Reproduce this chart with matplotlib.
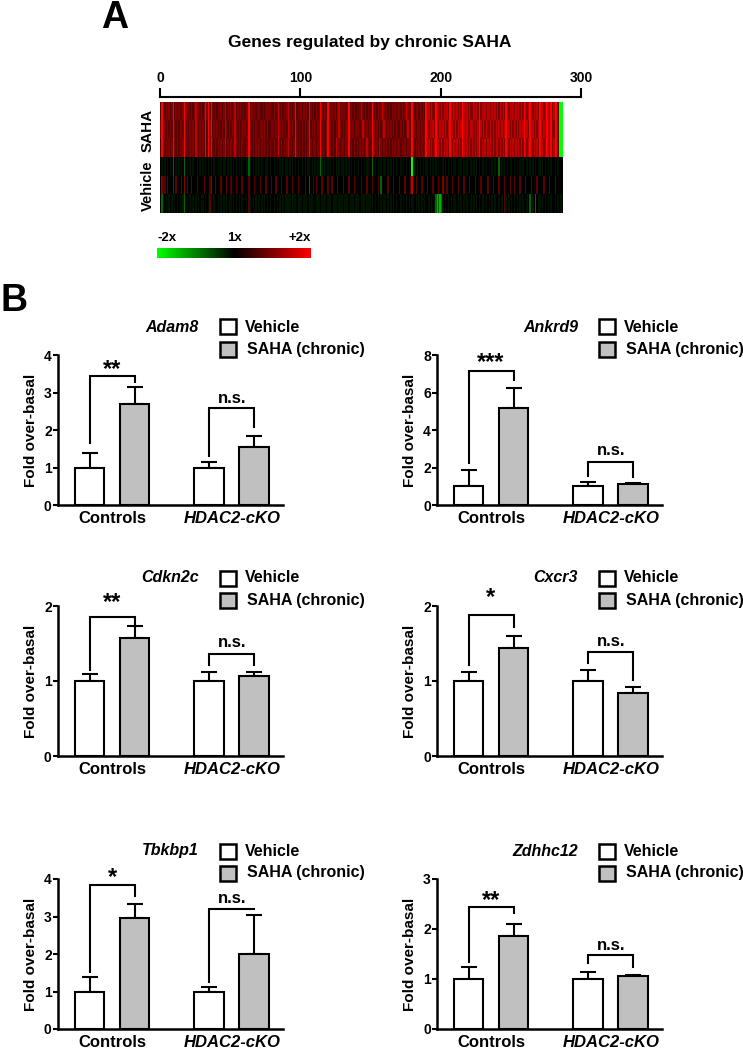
import numpy as np
import matplotlib
matplotlib.use('Agg')
import matplotlib.pyplot as plt
from matplotlib.colors import LinearSegmentedColormap, Normalize
from matplotlib.patches import Rectangle
from matplotlib.cm import ScalarMappable

plt.rcParams['font.family'] = ['Liberation Sans', 'DejaVu Sans']
plt.rcParams['font.weight'] = 'bold'

# ---------------- DATA ----------------
# Heatmap: one digit per gene (column); code 4 = 1x (black), 0 = -2x (green), 8 = +2x (red)
LEVELS = [-1.0, -0.7, -0.4, -0.08, 0.0, 0.35, 0.5, 0.75, 1.0]
HEAT_ROW_LABELS = ['SAHA', 'Vehicle']
HEAT_ROWS = [
    # SAHA 1
    "5855656568" "5656556865" "6565675656" "5686858656" "5656567565" "6567565656" "5658565656"
    "6556565665" "5656756565" "6756568565" "6565658656" "5656865658" "6565656756" "5656856565"
    "6567656565" "6856565676" "5656565656" "6565676568" "6566565658" "6767668676" "7676768767"
    "6767687676" "7667676867" "6767767676" "7676768767" "6767676768" "7678767676" "8676787686"
    "7885000",
    # SAHA 2
    "6856565658" "6565665856" "5656576565" "6585868565" "6565657656" "5657656565" "6568656565"
    "5665656556" "6565765656" "5765658656" "5656568565" "6565856568" "5656565765" "6565865656"
    "5656765656" "5865656567" "6565656565" "5656567658" "5656656568" "7676768767" "6767678676"
    "7676787676" "6776767876" "7676676767" "6767678676" "7676767678" "6768676767" "8767687686"
    "6885000",
    # SAHA 3
    "5865656568" "6565656856" "5656576565" "6585868656" "5656567565" "6567656565" "5658656565"
    "6565656565" "5656756565" "6756568656" "5656568656" "6565856568" "5656575656" "6565856565"
    "6565656765" "5865657656" "5656565656" "6565656568" "6565656568" "6767678676" "7676768767"
    "6767687676" "7676767867" "6767676767" "7676768767" "6767676768" "7678767676" "8676787686"
    "7885000",
    # Vehicle 1
    "4343434342" "4343434243" "4343443434" "3434343434" "4343433434" "3434343434" "4342343434"
    "3434433434" "4343434343" "3434343434" "4343433434" "3434234343" "4343434343" "3434343434"
    "4343434334" "4243434343" "3434343434" "4343434340" "4343434343" "3434343434" "4343434343"
    "3434343434" "4343434343" "3434343434" "4243434343" "3434343434" "4343434343" "3434343434"
    "4343444",
    # Vehicle 2
    "4645454446" "4544454645" "4454445444" "4544456445" "4445444544" "5444544454" "4445444544"
    "4544454445" "4454445444" "5444544454" "4445442445" "4544454445" "4454445444" "5444544454"
    "4445444544" "4544454244" "4454445444" "5444544457" "4454445444" "5444544454" "4644544454"
    "4454445444" "5444544454" "4445444544" "4544454445" "4454445444" "5444544454" "4445444544"
    "4544444",
    # Vehicle 3
    "4234343434" "3434343243" "4343434343" "3434353434" "4343434343" "3434343434" "4345343434"
    "3434343434" "4343434343" "3334333433" "3433343334" "4333433343" "3343334333" "4333433343"
    "3343334333" "4343434343" "3434343434" "4343434343" "3434343434" "4343432121" "2343434343"
    "3434343434" "4343434343" "3434343434" "4343453434" "3434343434" "4342434243" "3434343434"
    "4343434",
]
HEAT_TICKS = [0, 100, 200, 300]
CBAR_LABELS = ['-2x', '1x', '+2x']

GENES = ['Adam8', 'Ankrd9', 'Cdkn2c', 'Cxcr3', 'Tbkbp1', 'Zdhhc12']
GROUPS = ['Controls', 'HDAC2-cKO']
TREATMENTS = ['Vehicle', 'SAHA (chronic)']
# means: [Ctrl-Veh, Ctrl-SAHA, cKO-Veh, cKO-SAHA]
MEANS = {
    'Adam8':   [1.0, 2.69, 1.0, 1.54],
    'Ankrd9':  [1.0, 5.16, 1.0, 1.12],
    'Cdkn2c':  [1.0, 1.58, 1.0, 1.07],
    'Cxcr3':   [1.0, 1.44, 1.0, 0.84],
    'Tbkbp1':  [1.0, 2.97, 1.0, 2.00],
    'Zdhhc12': [1.0, 1.86, 1.0, 1.07],
}
SEMS = {
    'Adam8':   [0.39, 0.45, 0.14, 0.31],
    'Ankrd9':  [0.87, 1.06, 0.24, 0.07],
    'Cdkn2c':  [0.10, 0.15, 0.12, 0.05],
    'Cxcr3':   [0.12, 0.16, 0.15, 0.08],
    'Tbkbp1':  [0.40, 0.37, 0.11, 1.03],
    'Zdhhc12': [0.25, 0.24, 0.15, 0.02],
}
YMAX = [4, 8, 2, 2, 4, 3]
YSTEP = [1, 2, 1, 1, 1, 1]
SIG_CTRL = ['**', '***', '**', '*', '*', '**']
SIG_CKO = ['n.s.'] * 6
# brackets: (top, left-leg bottom, right-leg bottom)
BR_CTRL = [(3.44, 1.65, 3.28), (7.15, 2.22, 6.67), (1.85, 1.15, 1.72),
           (1.88, 1.21, 1.72), (3.83, 1.53, 3.55), (2.44, 1.35, 2.32)]
BR_CKO = [(2.58, 1.31, 2.09), (2.31, 1.56, 1.51), (1.36, 1.22, 1.22),
          (1.39, 1.24, 1.01), (3.21, 1.26, 3.19), (1.49, 1.33, 1.25)]
SIG_CTRL_Y = [3.68, 7.73, 2.08, 2.15, 4.10, 2.62]
SIG_CKO_Y = [2.85, 2.93, 1.51, 1.52, 3.47, 1.68]

# ---------------- FIGURE ----------------
W, H = 743, 1050
fig = plt.figure(figsize=(W / 100, H / 100), dpi=100)


def fx(px):
    return px / W


def fy(py):
    return 1 - py / H


cmap = LinearSegmentedColormap.from_list('gbr', ['#00ff00', '#000000', '#ff0000'])
norm = Normalize(-1, 1)

# ---- Panel A ----
fig.text(fx(115), fy(18), 'A', fontsize=27, fontweight='bold', ha='center', va='center')
fig.text(fx(370), fy(43), 'Genes regulated by chronic SAHA', fontsize=12.5,
         fontweight='bold', ha='center', va='center')

heat = np.array([[LEVELS[int(c)] for c in row] for row in HEAT_ROWS])
ncols = heat.shape[1]
axh = fig.add_axes([fx(160), fy(213), (581 - 160) / W, (213 - 102) / H])
axh.imshow(heat, cmap=cmap, norm=norm, aspect='auto', interpolation='nearest',
           extent=(0, ncols, heat.shape[0], 0))
axh.set_xlim(0, 300)
axh.set_ylim(heat.shape[0], 0)
axh.patch.set_alpha(0)
for s in ['left', 'right', 'bottom']:
    axh.spines[s].set_visible(False)
axh.spines['top'].set_position(('outward', 3.6))
axh.spines['top'].set_linewidth(1.5)
axh.xaxis.set_ticks_position('top')
axh.xaxis.set_label_position('top')
axh.set_xticks(HEAT_TICKS)
axh.set_xticklabels([str(t) for t in HEAT_TICKS], fontsize=10, fontweight='bold')
axh.tick_params(axis='x', direction='out', length=6.5, width=1.5, pad=2)
axh.set_yticks([])

fig.text(fx(148), fy(130), HEAT_ROW_LABELS[0], rotation=90, fontsize=11,
         fontweight='bold', ha='center', va='center')
fig.text(fx(148), fy(186), HEAT_ROW_LABELS[1], rotation=90, fontsize=10.5,
         fontweight='bold', ha='center', va='center')

cax = fig.add_axes([fx(157), fy(258), 154 / W, 10 / H])
cb = fig.colorbar(ScalarMappable(norm=norm, cmap=cmap), cax=cax, orientation='horizontal')
cb.outline.set_visible(False)
cax.set_xticks([])
for v, lab, ha in zip([-1, 0, 1], CBAR_LABELS, ['left', 'center', 'right']):
    cax.text(v, 2.0, lab, fontsize=9.5, fontweight='bold', ha=ha, va='center',
             transform=cax.get_xaxis_transform())

# ---- Panel B ----
fig.text(fx(14), fy(301), 'B', fontsize=27, fontweight='bold', ha='center', va='center')

COL_LEFT = [58, 437]
ROW_TOP = [355, 606, 879]
AX_W, AX_H = 225, 150
XPOS = [0, 1, 2.66, 3.66]
BAR_W = 0.66
FILLS = ['white', '#c0c0c0', 'white', '#c0c0c0']

for i, g in enumerate(GENES):
    left = COL_LEFT[i % 2]
    top = ROW_TOP[i // 2]
    ax = fig.add_axes([fx(left), fy(top + AX_H), AX_W / W, AX_H / H])
    m = MEANS[g]
    e = SEMS[g]
    ax.errorbar(XPOS, m, yerr=[[0] * 4, e], fmt='none', ecolor='black',
                elinewidth=1.5, capsize=6, capthick=1.5, zorder=1)
    ax.bar(XPOS, m, width=BAR_W, color=FILLS, edgecolor='black', linewidth=1.5, zorder=2)
    ax.set_xlim(-0.7, 4.3)
    ax.set_ylim(0, YMAX[i])
    ticks = np.arange(0, YMAX[i] + 0.01, YSTEP[i])
    ax.set_yticks(ticks)
    ax.set_yticklabels([str(int(t)) for t in ticks], fontsize=10, fontweight='bold')
    ax.tick_params(axis='y', length=3.5, width=1.5, pad=1)
    ax.set_xticks([(XPOS[0] + XPOS[1]) / 2, (XPOS[2] + XPOS[3]) / 2])
    ax.set_xticklabels(GROUPS, fontsize=12, fontweight='bold')
    ax.get_xticklabels()[1].set_style('italic')
    ax.tick_params(axis='x', length=0, pad=4)
    for s in ['top', 'right']:
        ax.spines[s].set_visible(False)
    for s in ['left', 'bottom']:
        ax.spines[s].set_linewidth(1.8)
    ax.patch.set_alpha(0)

    # significance brackets
    for (bt, bl, br), xa, xb, lab, ly in [
        (BR_CTRL[i], XPOS[0], XPOS[1], SIG_CTRL[i], SIG_CTRL_Y[i]),
        (BR_CKO[i], XPOS[2], XPOS[3], SIG_CKO[i], SIG_CKO_Y[i]),
    ]:
        ax.plot([xa, xa, xb, xb], [bl, bt, bt, br], color='black', lw=1.5,
                solid_joinstyle='miter', clip_on=False, zorder=3)
        if lab == 'n.s.':
            ax.text((xa + xb) / 2, ly, lab, fontsize=12, fontweight='bold',
                    ha='center', va='center', clip_on=False)
        else:
            ax.text((xa + xb) / 2, ly, lab, fontsize=17, fontweight='bold',
                    ha='center', va='center_baseline', clip_on=False)

    # y label
    fig.text(fx(left - 27), fy(top + AX_H / 2), 'Fold over-basal', rotation=90,
             fontsize=11, fontweight='bold', ha='center', va='center')

    # gene name + legend
    fig.text(fx(left + 141), fy(top - 28), g, fontsize=11.5, fontweight='bold',
             style='italic', ha='right', va='center')
    for k, (lab, col, yc) in enumerate(zip(TREATMENTS, ['white', '#c0c0c0'],
                                           [top - 28, top - 6])):
        fig.add_artist(Rectangle((fx(left + 162), fy(yc + 7.5)), 16 / W, 15 / H,
                                 transform=fig.transFigure, facecolor=col,
                                 edgecolor='black', linewidth=1.8))
        fig.text(fx(left + 187 + 2 * k), fy(yc), lab, fontsize=11.5,
                 fontweight='bold', ha='left', va='center')

fig.savefig('out.png', dpi=100)
